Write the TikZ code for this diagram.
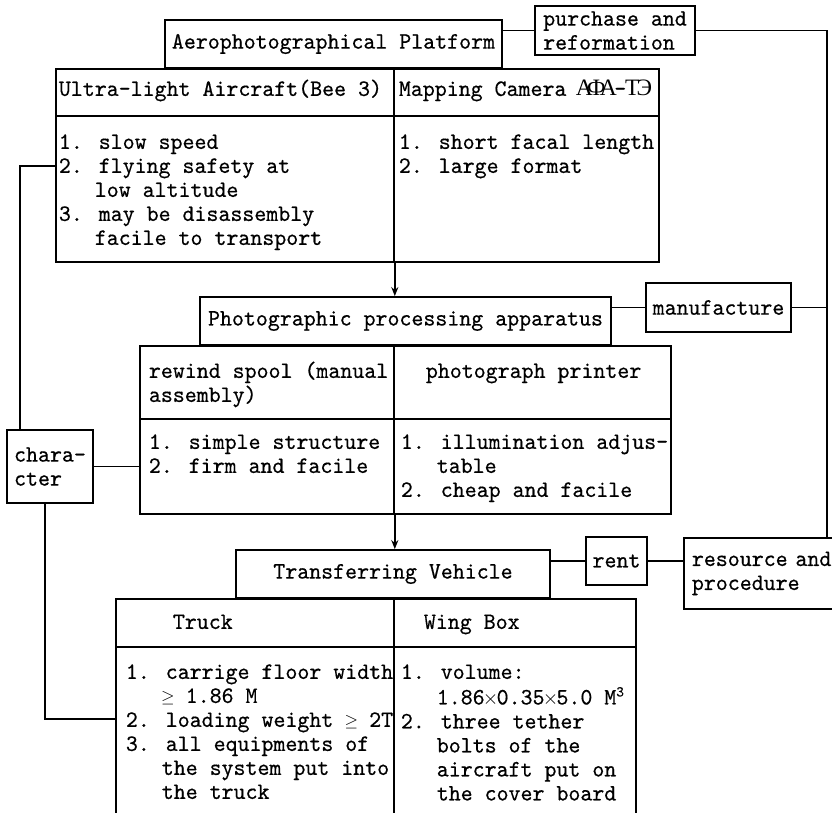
\documentclass[tikz,border=0pt]{standalone}
\usepackage{fontspec}
\usepackage{graphicx}
\setmainfont{lmmono10-regular.otf}[FakeStretch=0.97,FakeBold=0.5]
\newfontfamily\cyrf{Liberation Serif}
\usetikzlibrary{arrows.meta}
\newcommand\ff{\fontsize{23.5}{24}\selectfont}
\newlength\cw
\setlength\cw{11.97pt}
\newcommand\ind{\hspace*{3\cw}}
\newcommand\cy[1]{\makebox[\cw]{\cyrf #1}}
\newcommand\gq{\makebox[\cw]{\scalebox{0.7}{$\geq$}}}
\newcommand\tm{\makebox[\cw]{\scalebox{0.8}{$\times$}}}
\newcommand\sq{\raisebox{8pt}{\fontsize{15}{15}\selectfont 3}}
\def\sh{16.8}
\begin{document}
\begin{tikzpicture}[x=1pt,y=-1pt,line width=1.8pt,
  box/.style={draw,rectangle,inner sep=0pt,align=left,font=\ff},
  cell/.style={draw,rectangle,anchor=north west,inner sep=0pt},
  txt/.style={anchor=north west,inner sep=0pt,align=left,font=\ff},
  arr/.style={-{Stealth[length=9pt,width=7pt]}}]
\useasboundingbox (0,0) rectangle (832,812);

% ---------- top group ----------
\node[box,minimum width=337,minimum height=48] (plat) at (333.5,44) {Aerophotographical Platform};
\node[box,minimum width=160,minimum height=49] (purch) at (615,30.5) {purchase and\\reformation};

\node[cell,minimum width=338,minimum height=47] (t1h) at (55,68) {};
\node[cell,minimum width=265,minimum height=47] (t2h) at (393,68) {};
\node[cell,minimum width=338,minimum height=146] (t1b) at (55,115) {};
\node[cell,minimum width=265,minimum height=146] (t2b) at (393,115) {};

\node[txt] (t1htx) at (58,95-\sh) {\strut Ultra-light Aircraft(Bee 3)};
\node[txt] (t2htx) at (398,95-\sh) {\strut Mapping Camera \cy{А}\cy{Ф}\cy{А}-\cy{Т}\cy{Э}};
\node[txt] (t1btx) at (58,148-\sh) {\strut 1. slow speed\\2. flying safety at\\\ind low altitude\\3. may be disassembly\\\ind facile to transport};
\node[txt] (t2btx) at (398,148-\sh) {\strut 1. short facal length\\2. large format};

% ---------- middle group ----------
\node[box,minimum width=411,minimum height=48] (proc) at (405.5,321) {Photographic processing apparatus};
\node[box,minimum width=145,minimum height=49] (manu) at (718.5,307.5) {manufacture};

\node[cell,minimum width=254,minimum height=73] (m1h) at (139,345) {};
\node[cell,minimum width=277,minimum height=73] (m2h) at (393,345) {};
\node[cell,minimum width=254,minimum height=95] (m1b) at (139,418) {};
\node[cell,minimum width=277,minimum height=95] (m2b) at (393,418) {};

\node[txt] (m1htx) at (148,377-\sh) {\strut rewind spool (manual\\assembly)};
\node[txt] (m2htx) at (425,377-\sh) {\strut photograph printer};
\node[txt] (m1btx) at (148,448-\sh) {\strut 1. simple structure\\2. firm and facile};
\node[txt] (m2btx) at (400,448-\sh) {\strut 1. illumination adjus-\\\ind table\\2. cheap and facile};

\node[box,minimum width=86,minimum height=73] (char) at (50,466.5) {chara-\\cter};

% ---------- bottom group ----------
\node[box,minimum width=314,minimum height=48] (trans) at (393,574) {Transferring Vehicle};
\node[box,minimum width=61,minimum height=48] (rent) at (616.5,561) {rent};
\node[draw,rectangle,anchor=north west,inner xsep=8pt,inner ysep=0pt,text width=150pt,
      minimum height=71,align=left,font=\ff] (res) at (683,537) {resource and\\procedure};

\node[cell,minimum width=278,minimum height=48] (b1h) at (115,598) {};
\node[cell,minimum width=242,minimum height=48] (b2h) at (393,598) {};
\node[cell,minimum width=278,minimum height=190] (b1b) at (115,646) {};
\node[cell,minimum width=242,minimum height=190] (b2b) at (393,646) {};

\node[txt] (b1htx) at (172,628-\sh) {\strut Truck};
\node[txt] (b2htx) at (423,628-\sh) {\strut Wing Box};
\node[txt] (b1btx) at (125,678-\sh) {\strut 1. carrige floor width\\\ind \gq{} 1.86 M\\2. loading weight \gq{} 2T\\3. all equipments of\\\ind the system put into\\\ind the truck};
\node[txt] (b2btx) at (400,678-\sh) {\strut 1. volume:\\\ind 1.86\tm 0.35\tm 5.0 M\sq\\2. three tether\\\ind bolts of the\\\ind aircraft put on\\\ind the cover board};

% ---------- connectors ----------
\coordinate (rx) at (827,0);
\coordinate (c1) at (20,166);
\coordinate (c2) at (45,719);

\draw (purch.west) -- (purch.west -| plat.east);
\draw (purch.east) -- (purch.east -| rx) -- (rx |- res.north);
\draw (manu.east) -- (manu.east -| rx);
\draw (manu.west) -- (manu.west -| proc.east);
\draw (rent.west) -- (rent.west -| trans.east);
\draw (rent.east) -- (rent.east -| res.west);

\draw[arr] (t1b.south east) -- (t1b.south east |- proc.north);
\draw[arr] (m1b.south east) -- (m1b.south east |- trans.north);

\draw (c1 -| t1b.west) -- (c1) -- (c1 |- char.north);
\draw (char.east) -- (char.east -| m1b.west);
\draw (c2 |- char.south) -- (c2) -- (c2 -| b1b.west);
\end{tikzpicture}
\end{document}
